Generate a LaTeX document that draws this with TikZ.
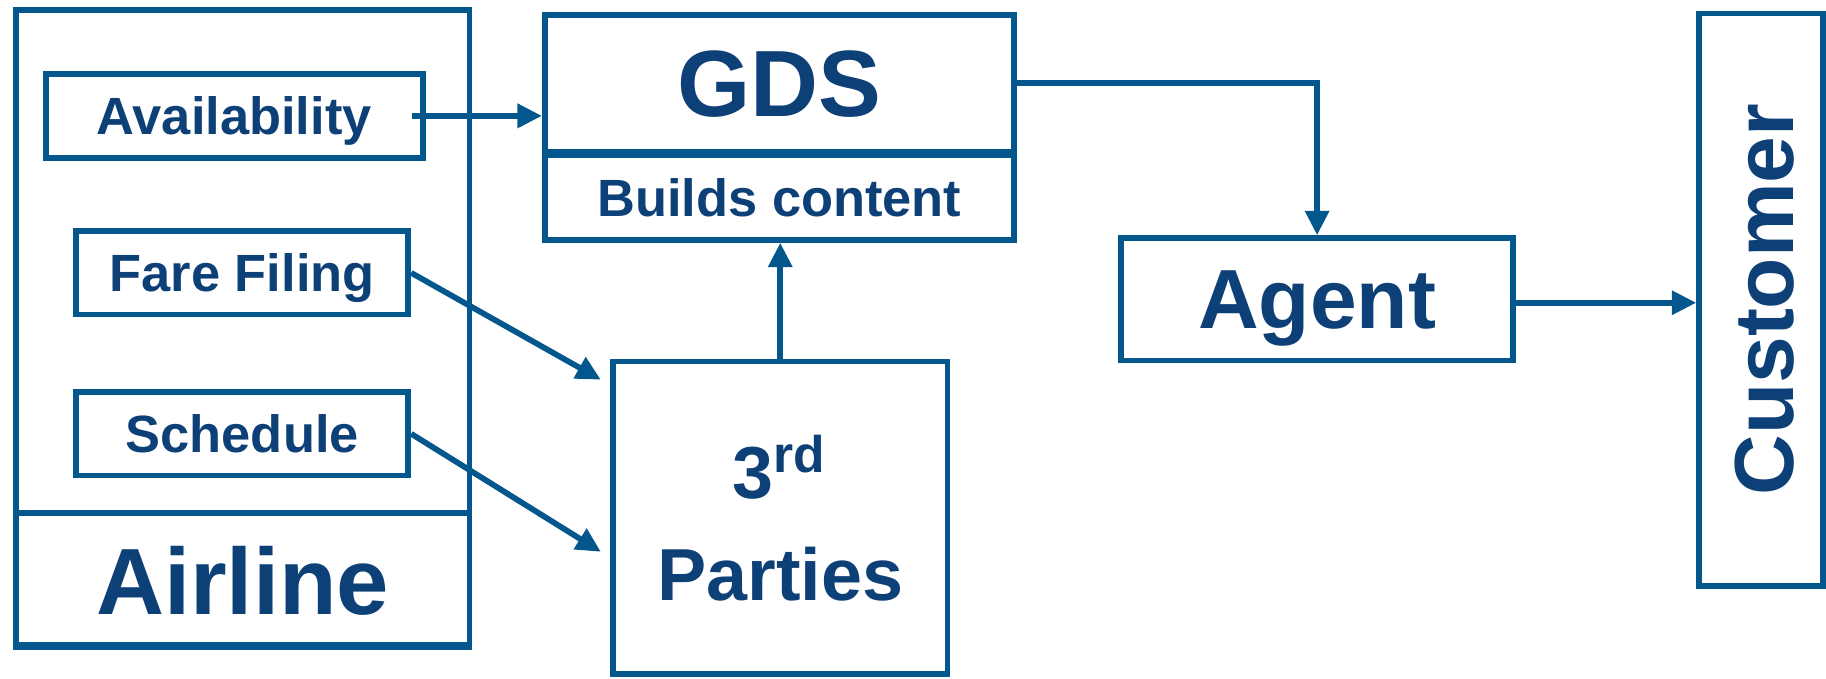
\documentclass[tikz,border=0pt]{standalone}
\usepackage{fontspec}
\setmainfont{Liberation Sans}
\usetikzlibrary{arrows.meta}
\definecolor{boxblue}{HTML}{04578D}
\definecolor{textblue}{HTML}{0E4078}
\tikzset{
  box/.style={draw=boxblue, line width=1.4pt, inner sep=0pt, text=textblue, align=center, text depth=0pt},
  txt/.style={inner sep=0pt, text=textblue, text depth=0pt},
  big/.style={font=\fontsize{23}{28}\selectfont\bfseries},
  mid/.style={font=\fontsize{20.5}{25}\selectfont\bfseries},
  par/.style={font=\fontsize{18}{25}\selectfont\bfseries},
  small/.style={font=\fontsize{12.8}{15}\selectfont\bfseries},
  flow/.style={draw=boxblue, line width=1.4pt, -{Triangle[length=0.21cm,width=0.2cm]}}
}
\begin{document}
\begin{tikzpicture}[x=0.01cm,y=-0.01cm]
\useasboundingbox (0,0) rectangle (1568,583);
\node[box, minimum width=3.894cm, minimum height=5.454cm] (airline) at (208.3,281.3) {};
\node[box, big, minimum width=3.894cm, minimum height=1.146cm] (airlab) at (208.3,498) {Airline};
\node[box, small, minimum width=3.236cm, minimum height=0.719cm] (avail) at (201.2,99.5) {Availability};
\foreach \nm/\txt/\y in {fare/Fare Filing/234.3, sched/Schedule/372.5}{
	\node[box, small, minimum width=2.851cm, minimum height=0.717cm] (\nm) at (208,\y) {\txt};
}
\node[box, big, minimum width=4.025cm, minimum height=1.168cm] (gds) at (669.2,71.6) {GDS};
\node[box, small, minimum width=4.025cm, minimum height=0.73cm] (builds) at (669.2,169.5) {Builds content};
\node[box, par, minimum width=2.87cm, minimum height=2.684cm] (third) at (670,444.8) {3\textsuperscript{rd}\\Parties};
\node[box, mid, minimum width=3.363cm, minimum height=1.05cm] (agent) at (1131,257) {Agent};
\node[box, minimum width=1.065cm, minimum height=4.91cm] (customer) at (1512.3,257.3) {};
\node[txt, mid, rotate=90] (custlab) at ([xshift=0.03cm]customer) {Customer};

\draw[flow] ([xshift=-0.12cm]avail.east) -- (avail.east -| gds.west);
\draw[flow] (fare.east) -- ([shift={(-0.08cm,-0.18cm)}]third.north west);
\draw[flow] (sched.east) -- ([shift={(-0.08cm,-0.29cm)}]third.west);
\draw[flow] (third.north) -- (third.north |- builds.south);
\draw[flow] (gds.east) -| (agent.north);
\draw[flow] ([yshift=-0.03cm]agent.east) -- ([yshift=-0.03cm]agent.east -| customer.west);
\end{tikzpicture}
\end{document}
